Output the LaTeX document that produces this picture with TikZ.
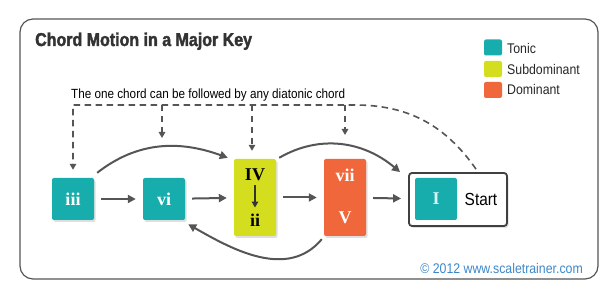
\documentclass[tikz,border=0pt]{standalone}
\usepackage{fontspec}
\setmainfont{Liberation Sans}[FakeStretch=0.88]
\newfontfamily\titlefont{Liberation Sans}[FakeStretch=0.86,BoldFeatures={FakeBold=2}]
\newfontfamily\romfont{Liberation Serif}
\usetikzlibrary{arrows.meta,shadows}
\definecolor{tonic}{HTML}{17ADAD}
\definecolor{subdom}{HTML}{D4DD1E}
\definecolor{domcol}{HTML}{F0673B}
\definecolor{linegray}{HTML}{555555}
\definecolor{webblue}{HTML}{3C87C8}
\begin{document}
\begin{tikzpicture}[>={Triangle[length=8pt,width=8pt]},x=1pt,y=1pt,
		boxshadow/.style={drop shadow={shadow xshift=1.5pt,shadow yshift=-2pt,opacity=.25}},
		chordbox/.style={rounded corners=2pt,inner sep=0pt,minimum width=42pt,minimum height=42pt},
		numeral/.style={inner sep=0pt,font=\romfont\bfseries\fontsize{18}{18}\selectfont},
		curve/.style={->,draw=linegray,line width=2pt},
		flow/.style={curve,shorten <=7pt,shorten >=7pt},
		dashline/.style={-{Triangle[length=6pt,width=6.5pt]},draw=linegray,line width=1.6pt,dash pattern=on 6.5pt off 4.5pt},
		keybox/.style={rounded corners=2pt,minimum width=18pt,minimum height=16pt,inner sep=0pt},
		keytext/.style={anchor=base west,inner sep=0pt,font=\fontsize{14}{14}\selectfont,text=black!85}]
	\useasboundingbox (0,0) rectangle (614,299);
	\draw[linegray,line width=1.2pt,rounded corners=13pt] (20,20) rectangle (598,280);
	\node[anchor=base west,inner sep=0pt,text=black!80,font=\titlefont\bfseries\fontsize{18.6}{18}\selectfont] (title) at (35,253) {Chord Motion in a Major Key};
	\node[keybox,fill=tonic] (ktonic) at (493,251.5) {};
	\node[keybox,fill=subdom] (ksubdom) at (493,230) {};
	\node[keybox,fill=domcol] (kdom) at (493,209) {};
	\node[keytext] (ltonic) at (507,245.7) {Tonic};
	\node[keytext] (lsubdom) at (507,224.7) {Subdominant};
	\node[keytext] (ldom) at (507,204) {Dominant};
	\node[anchor=base west,inner sep=0pt,font=\fontsize{13.3}{13}\selectfont] (note) at (71,200) {The one chord can be followed by any diatonic chord};
	\node[chordbox,boxshadow,fill=tonic,text=white,font=\romfont\bfseries\fontsize{18}{18}\selectfont] (iii) at (73,100) {iii};
	\node[chordbox,boxshadow,fill=tonic,text=white,font=\romfont\bfseries\fontsize{18}{18}\selectfont] (vi) at (164,100) {vi};
	\node[chordbox,boxshadow,fill=subdom,minimum height=77pt] (sub) at (255,101.5) {};
	\node[chordbox,boxshadow,fill=domcol,minimum height=77pt] (dom) at (345,101.5) {};
	\node[numeral] (IV) at (255,124) {IV};
	\node[numeral] (ii) at (255,79) {ii};
	\node[numeral,text=white] (vii) at (345,124) {vii};
	\node[numeral,text=white] (V) at (345,81) {V};
	\node[boxshadow,draw=black!75,line width=1.8pt,fill=white,rounded corners=3pt,minimum width=98pt,minimum height=53pt] (startbox) at (458,99.5) {};
	\node[chordbox,fill=tonic,text=white!85!tonic,font=\romfont\bfseries\fontsize{18}{18}\selectfont] (I) at (436,100) {I};
	\node[inner sep=0pt,font=\fontsize{17.5}{17}\selectfont] (start) at (481,100) {Start};
	\node[anchor=base east,inner sep=0pt,text=webblue,font=\fontsize{14}{14}\selectfont] (credit) at (583,25) {© 2012 www.scaletrainer.com};
	\draw[->,draw=black!80,line width=1.6pt,>={Triangle[length=6pt,width=6.5pt]},shorten <=4pt,shorten >=6pt] (IV) -- (ii);
	\draw[flow] (iii) -- (vi);
	\draw[flow] (vi) -- (sub);
	\draw[flow] (sub) -- (dom);
	\draw[flow] (dom) -- (startbox);
	\draw[curve] ([shift={(3,5)}]iii.north east) to[out=38,in=160] ([shift={(-6,1)}]sub.north west);
	\draw[curve] ([shift={(3,1)}]sub.north east) to[out=30,in=140] ([shift={(-8,0)}]startbox.north west);
	\draw[curve] ([shift={(-2,-3)}]dom.south west) to[out=230,in=330] ([shift={(3,-4)}]vi.south east);
	\coordinate (dtop) at (355,194);
	\coordinate (dleft) at (73,194);
	\coordinate (dvi) at (162,194);
	\coordinate (dvitip) at (162,161);
	\coordinate (dsub) at (252,194);
	\coordinate (ddom) at (345,194);
	\coordinate (ddomtip) at (345,164);
	\draw[dashline] ([shift={(18,3)}]startbox.north) to[out=125,in=0] (dtop) -- (dleft) -- ([yshift=8pt]iii.north);
	\draw[dashline] (dvi) -- (dvitip);
	\draw[dashline] (dsub) -- ([shift={(-3,8)}]sub.north);
	\draw[dashline] (ddom) -- (ddomtip);
\end{tikzpicture}
\end{document}
